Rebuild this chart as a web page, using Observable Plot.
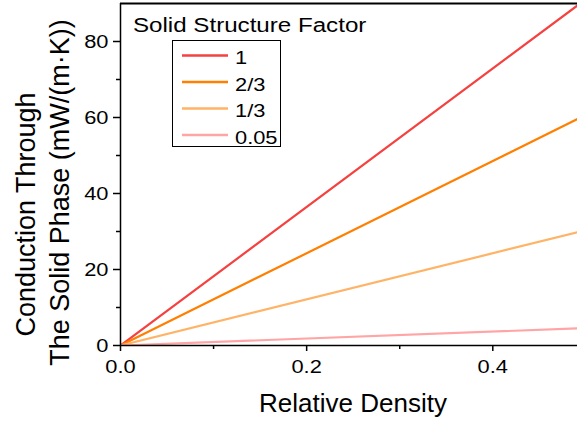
<!DOCTYPE html>
<html>
<head>
<meta charset="utf-8">
<script src="https://cdn.jsdelivr.net/npm/d3@7"></script>
<script src="https://cdn.jsdelivr.net/npm/@observablehq/plot@0.6"></script>
<style>
  html, body { margin: 0; padding: 0; background: #fff; }
  #wrap { position: relative; width: 577px; height: 425px; font-family: Arial, "Liberation Sans", sans-serif; }
  #legend { position: absolute; left: 0; top: 0; pointer-events: none; }
</style>
</head>
<body>
<div id="wrap"></div>
<script>
// Data
const factors = ["1", "2/3", "1/3", "0.05"];
const colors = ["#f5413f", "#ff7f00", "#ffb366", "#ffa5a5"];
const densityStart = [0, 0, 0, 0];
const densityEnd = [0.491, 0.491, 0.491, 0.491];
const conductionStart = [0, 0, 0, 0];
const conductionEnd = [89.5, 59.6, 29.8, 4.5];
const xMajorTicks = [0, 0.2, 0.4];
const xMinorTicks = [0.1, 0.3];
const yMajorTicks = [0, 20, 40, 60, 80];
const yMinorTicks = [10, 30, 50, 70];

const rows = [];
factors.forEach((f, i) => {
  rows.push({factor: f, x: densityStart[i], y: conductionStart[i]});
  rows.push({factor: f, x: densityEnd[i], y: conductionEnd[i]});
});

const FONT = 'Arial, "Liberation Sans", sans-serif';
const W = 577, H = 425;
const chart = Plot.plot({
  width: W, height: H,
  marginLeft: 120, marginRight: 0, marginTop: 3, marginBottom: 80,
  style: {fontFamily: FONT, background: "#fff", overflow: "visible"},
  x: {domain: [0, 0.491], label: null},
  y: {domain: [0, 90], label: null},
  color: {domain: factors, range: colors},
  marks: [
    Plot.line(rows, {x: "x", y: "y", z: "factor", stroke: "factor", strokeWidth: 2.2, clip: true}),
    Plot.axisX({ticks: xMajorTicks, tickFormat: d3.format(".1f"), tickSize: 6, tickPadding: 8, fontSize: 19, stroke: "#000", strokeWidth: 1.5, color: "#000"}),
    Plot.axisX({ticks: xMinorTicks, tickSize: 4, text: null, stroke: "#000", strokeWidth: 1.5}),
    Plot.axisY({ticks: yMajorTicks, tickSize: 7, tickPadding: 5, fontSize: 19, stroke: "#000", strokeWidth: 1.5, color: "#000"}),
    Plot.axisY({ticks: yMinorTicks, tickSize: 4, text: null, stroke: "#000", strokeWidth: 1.5}),
    Plot.ruleY([0], {stroke: "#000", strokeWidth: 1.5}),
    Plot.ruleX([0], {stroke: "#000", strokeWidth: 1.5}),
    Plot.ruleY([90], {stroke: "#000", strokeWidth: 2}),
    Plot.text(["Relative Density"], {frameAnchor: "bottom", dx: 4, dy: 66, fontSize: 26, fill: "#000"}),
    Plot.text(["Conduction Through"], {frameAnchor: "left", textAnchor: "middle", dx: -94, dy: 40, rotate: -90, fontSize: 27, fill: "#000"}),
    Plot.text(["The Solid Phase (mW/(m\u00b7K))"], {frameAnchor: "left", textAnchor: "middle", dx: -60, dy: 18, rotate: -90, fontSize: 27, fill: "#000"})
  ]
});
document.getElementById("wrap").appendChild(chart);

// Reference glyphs are slightly wide: stretch the tick labels horizontally
d3.select(chart).selectAll('g[aria-label="x-axis tick label"] text, g[aria-label="y-axis tick label"] text')
  .each(function() {
    const t = this.getAttribute("transform") || "";
    this.setAttribute("transform", t + " scale(1.15,1)");
  });

// Legend (inside plot area, top-left)
const svg = d3.select("#wrap").append("svg")
  .attr("id", "legend").attr("width", W).attr("height", H);
svg.append("text").attr("transform", "translate(133,32) scale(1.15,1)")
  .attr("font-size", 21).attr("font-family", FONT)
  .attr("fill", "#000").text("Solid Structure Factor");
svg.append("rect").attr("x", 172.5).attr("y", 40.5).attr("width", 108).attr("height", 106)
  .attr("fill", "#fff").attr("stroke", "#000").attr("stroke-width", 1);
factors.forEach((f, i) => {
  const yy = 55.5 + i * 26.5;
  svg.append("line").attr("x1", 182).attr("x2", 228).attr("y1", yy).attr("y2", yy)
    .attr("stroke", colors[i]).attr("stroke-width", 2.5);
  svg.append("text").attr("transform", `translate(235,${yy + 8.5}) scale(1.15,1)`)
    .attr("font-size", 19).attr("font-family", FONT)
    .attr("fill", "#000").text(f);
});
</script>
</body>
</html>
